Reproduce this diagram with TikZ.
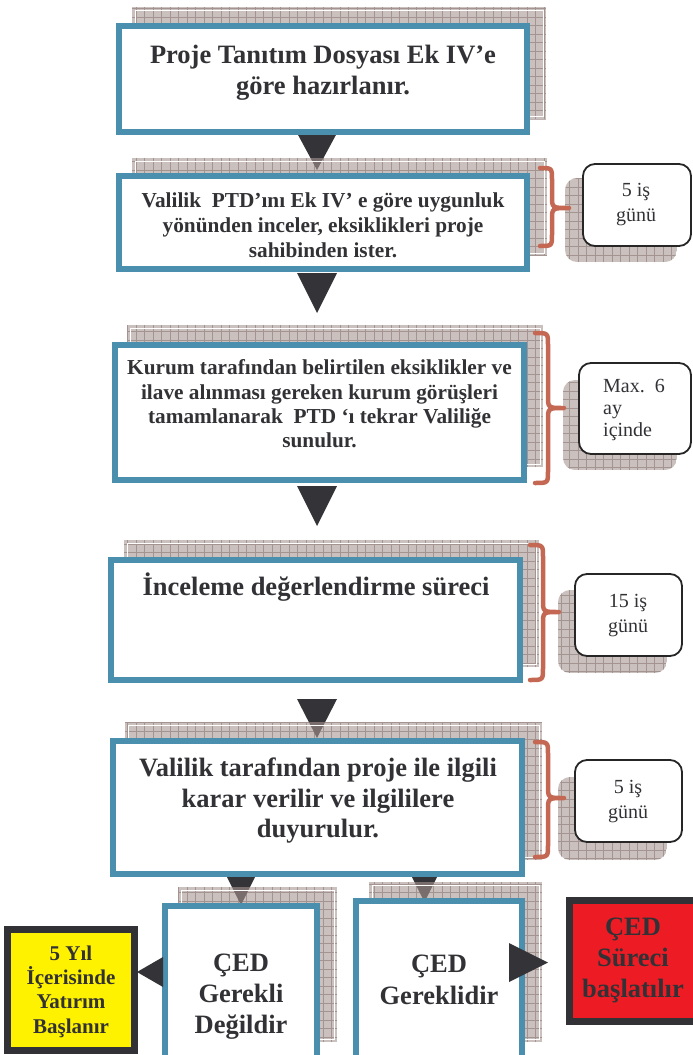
\documentclass[tikz,border=0pt]{standalone}
\usepackage{fontspec}
\setmainfont{Liberation Serif}
\usetikzlibrary{calc}
\definecolor{bframe}{RGB}{74,143,174}
\definecolor{txt}{RGB}{50,50,54}
\definecolor{tri}{RGB}{52,52,56}
\definecolor{brc}{RGB}{196,104,84}
\definecolor{shbase}{RGB}{168,150,146}
\definecolor{shline}{RGB}{125,105,103}
\definecolor{ylw}{RGB}{255,242,0}
\definecolor{rd}{RGB}{237,28,36}
\definecolor{dk}{RGB}{50,50,54}
% radius, x1, y1, x2, y2
\newcommand\mkshadow[5]{%
  \begin{scope}
    \clip[rounded corners=#1] (#2,#3) rectangle (#4,#5);
    \fill[shbase, fill opacity=0.6] (#2,#3) rectangle (#4,#5);
    \draw[shline, opacity=0.5, line width=0.6pt, step=8.5pt] (#2,#5) grid (#4,#3);
  \end{scope}}
\newcommand\mkshadowline[4]{\draw[white, line width=0.9pt] (#1+3,#2+3) rectangle (#3-3,#4-3);}
\newcommand\mkbrace[6]{%
  \draw[bracestyle] (#1,#4) .. controls (#2,#4) .. (#2,#4+12) -- (#2,#5-12)
    .. controls (#2,#5) .. (#3,#5) .. controls (#2,#5) .. (#2,#5+12) -- (#2,#6-12)
    .. controls (#2,#6) .. (#1,#6);}
\begin{document}
\begin{tikzpicture}[x=1pt,y=-1pt,
  mainbox/.style={rectangle, draw=bframe, line width=6pt, fill=white, inner sep=0pt},
  darkbox/.style={rectangle, draw=dk, line width=7pt, inner sep=0pt},
  timebox/.style={rectangle, draw=black!85, line width=1.8pt, rounded corners=12pt, fill=white, inner sep=0pt},
  bigtxt/.style={text=txt, align=center, inner sep=0pt, font=\bfseries\fontsize{26.5}{31}\selectfont},
  midtxt/.style={text=txt, align=center, inner sep=0pt, font=\bfseries\fontsize{21.3}{25}\selectfont},
  ytxt/.style={text=txt, align=center, inner sep=0pt, font=\bfseries\fontsize{21}{24.3}\selectfont},
  tbtxt/.style={text=txt, align=center, inner sep=0pt, font=\fontsize{20}{25}\selectfont},
  bracestyle/.style={draw=brc, line width=4.5pt, line cap=round, line join=round},
  tri/.style={fill=tri}]
\useasboundingbox (0,0) rectangle (693,1055);
\fill[white] (0,0) rectangle (693,1055);
\clip (0,0) rectangle (693,1055);

% connector triangles (drawn first, shadows lie over them)
\coordinate (a1) at (317,133);
\coordinate (a2) at (317,273);
\coordinate (a3) at (317,486);
\coordinate (a4) at (317,699);
\coordinate (a5) at (241,877);
\coordinate (a6) at (424.5,877);
\fill[tri] ($(a1)+(-20,0)$) -- ($(a1)+(20,0)$) -- ($(a1)+(0,37)$) -- cycle;
\fill[tri] ($(a2)+(-20,0)$) -- ($(a2)+(20,0)$) -- ($(a2)+(0,40)$) -- cycle;
\fill[tri] ($(a3)+(-20,0)$) -- ($(a3)+(20,0)$) -- ($(a3)+(0,40)$) -- cycle;
\fill[tri] ($(a4)+(-20,0)$) -- ($(a4)+(20,0)$) -- ($(a4)+(0,39)$) -- cycle;
\fill[tri] ($(a5)+(-14,0)$) -- ($(a5)+(14,0)$) -- ($(a5)+(0,28)$) -- cycle;
\fill[tri] ($(a6)+(-12.5,0)$) -- ($(a6)+(12.5,0)$) -- ($(a6)+(0,25)$) -- cycle;

% shadows
\mkshadow{0pt}{132}{7}{546}{119}    \mkshadowline{132}{7}{546}{119}
\mkshadow{0pt}{132}{158}{547}{256}  \mkshadowline{132}{158}{547}{256}
\mkshadow{0pt}{127}{325}{543}{467}  \mkshadowline{127}{325}{543}{467}
\mkshadow{0pt}{124}{540}{539}{667}  \mkshadowline{124}{540}{539}{667}
\mkshadow{0pt}{125}{722}{542}{860}  \mkshadowline{125}{722}{542}{860}
\mkshadow{0pt}{178}{887}{337}{1042} \mkshadowline{178}{887}{337}{1042}
\mkshadow{0pt}{369}{882}{542}{1042} \mkshadowline{369}{882}{542}{1042}
\mkshadow{12pt}{565}{178}{677}{262}
\mkshadow{12pt}{563}{380}{677}{470}
\mkshadow{12pt}{558}{590}{667}{673}
\mkshadow{12pt}{558}{777}{667}{860}

% main boxes
\node[mainbox, minimum width=408, minimum height=106] (b1) at (323,79) {};
\node[mainbox, minimum width=408, minimum height=93] (b2) at (323,222.5) {};
\node[mainbox, minimum width=409, minimum height=135] (b3) at (319.5,412.5) {};
\node[mainbox, minimum width=409, minimum height=120] (b4) at (315.5,620) {};
\node[mainbox, minimum width=409, minimum height=133] (b5) at (317.5,807.5) {};
\node[mainbox, minimum width=152, minimum height=153] (b6) at (241,982.5) {};
\node[mainbox, minimum width=166, minimum height=158] (b7) at (439,980) {};
\node[darkbox, fill=ylw, minimum width=127, minimum height=121] (yb) at (71,990) {};
\node[darkbox, fill=rd, minimum width=127, minimum height=121] (rb) at (633,961) {};

% side triangles
\coordinate (a7) at (163,972);
\coordinate (a8) at (509,962.5);
\fill[tri] ($(a7)+(0,-15)$) -- ($(a7)+(0,15)$) -- ($(a7)+(-26,0)$) -- cycle;
\fill[tri] ($(a8)+(0,-19.5)$) -- ($(a8)+(0,19.5)$) -- ($(a8)+(39,0)$) -- cycle;

% time boxes
\node[timebox, minimum width=108, minimum height=82] (tb1) at (637,205) {};
\node[timebox, minimum width=112, minimum height=91] (tb2) at (635,408.5) {};
\node[timebox, minimum width=107, minimum height=82] (tb3) at (628.5,615) {};
\node[timebox, minimum width=107, minimum height=82] (tb4) at (628.5,801) {};

% braces
\mkbrace{540}{552}{569}{168}{208}{246}
\mkbrace{535}{548}{564}{333}{408}{483}
\mkbrace{530}{543}{559}{545}{612}{680}
\mkbrace{535}{548}{564}{742}{798}{857}

% texts
\node[bigtxt] (t1) at (323,72.3) {Proje Tanıtım Dosyası Ek IV’e\\göre hazırlanır.};
\node[midtxt] (t2) at (323,225.7) {Valilik\ \ PTD’ını Ek IV’ e göre uygunluk\\yönünden inceler, eksiklikleri proje\\sahibinden ister.};
\node[midtxt, font=\bfseries\fontsize{21.3}{24.3}\selectfont] (t3) at (319.5,404) {Kurum tarafından belirtilen eksiklikler ve\\ilave alınması gereken kurum görüşleri\\tamamlanarak\ \ PTD ‘ı tekrar Valiliğe\\sunulur.};
\node[bigtxt, anchor=base] (t4) at (316,595) {İnceleme değerlendirme süreci};
\node[bigtxt, font=\bfseries\fontsize{26.5}{30.5}\selectfont] (t5) at (318,801) {Valilik tarafından proje ile ilgili\\karar verilir ve ilgililere\\duyurulur.};
\node[bigtxt] (t6) at (241,997) {ÇED\\Gerekli\\Değildir};
\node[bigtxt, font=\bfseries\fontsize{26.5}{32}\selectfont] (t7) at (439,980) {ÇED\\Gereklidir};
\node[ytxt] (t8) at (71,991.5) {5 Yıl\\İçerisinde\\Yatırım\\Başlanır};
\node[bigtxt] (t9) at (633,960) {ÇED\\Süreci\\başlatılır};
\node[tbtxt] (tt1) at (636,205) {5 iş\\günü};
\node[tbtxt, align=left, anchor=west, font=\fontsize{20}{22}\selectfont] (tt2) at (603,410.4) {Max.\ \ 6\\ay\\içinde};
\node[tbtxt] (tt3) at (628,615.5) {15 iş\\günü};
\node[tbtxt] (tt4) at (628,802) {5 iş\\günü};
\end{tikzpicture}
\end{document}
